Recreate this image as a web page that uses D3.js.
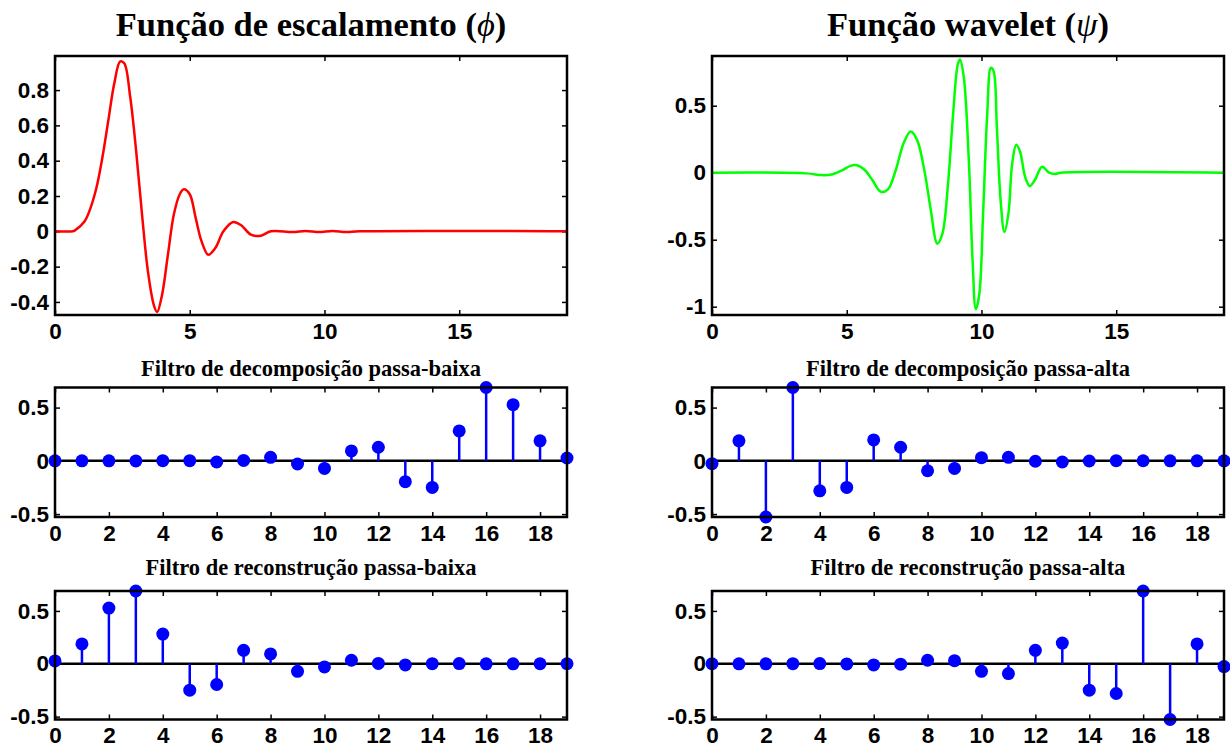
<!DOCTYPE html>
<html>
<head>
<meta charset="utf-8">
<script src="https://cdn.jsdelivr.net/npm/d3@7"></script>
<style>
  body { margin: 0; background: #fff; }
  svg { display: block; }
  .tick text { font-family: "Liberation Sans", Arial, sans-serif; font-weight: bold; font-size: 22.5px; fill: #000; }
  .tick line { stroke: #000; stroke-width: 1.5; }
  .domain { display: none; }
  .ttl { font-family: "Liberation Serif", "Times New Roman", serif; font-weight: bold; fill: #000; }
</style>
</head>
<body>
<svg id="chart" width="1230" height="751"></svg>
<script>
// scaling function phi
var phiX = [0, 0.66, 0.73, 1.10, 1.32, 1.54, 1.76, 1.98, 2.20, 2.42, 2.57, 2.79, 3.01, 3.23, 3.45, 3.67, 3.79, 3.97, 4.19, 4.41, 4.63, 4.78, 5.00, 5.22, 5.44, 5.69, 5.95, 6.25, 6.61, 6.91, 7.27, 7.64, 8.01, 8.82, 9.3, 9.8, 10.3, 10.8, 11.3, 19];
var phiY = [0, 0, 0.004, 0.057, 0.133, 0.248, 0.419, 0.629, 0.838, 0.962, 0.952, 0.762, 0.457, 0.095, -0.229, -0.419, -0.457, -0.362, -0.133, 0.095, 0.210, 0.238, 0.210, 0.076, -0.057, -0.133, -0.095, 0, 0.053, 0.034, -0.019, -0.025, 0, -0.004, 0.002, -0.004, 0.002, -0.004, 0, 0];

// wavelet function psi
var psiX = [0, 3.50, 4.08, 4.44, 4.80, 5.16, 5.38, 5.67, 5.95, 6.27, 6.53, 6.82, 7.11, 7.37, 7.61, 7.90, 8.12, 8.36, 8.55, 8.76, 8.95, 9.12, 9.20, 9.34, 9.53, 9.67, 9.79, 9.92, 10.06, 10.21, 10.35, 10.45, 10.57, 10.71, 10.85, 11.00, 11.14, 11.29, 11.43, 11.62, 11.79, 11.98, 12.25, 12.51, 12.73, 12.94, 19];
var psiY = [0, -0.005, -0.018, -0.013, 0.015, 0.053, 0.055, 0.02, -0.055, -0.143, -0.125, 0.02, 0.22, 0.308, 0.245, -0.005, -0.28, -0.53, -0.455, -0.08, 0.445, 0.808, 0.845, 0.72, 0.095, -0.655, -1.018, -0.905, -0.305, 0.42, 0.783, 0.758, 0.345, -0.205, -0.443, -0.305, 0.07, 0.208, 0.158, -0.03, -0.1, -0.055, 0.045, 0, -0.01, 0, 0];

// filter coefficients, index 0..19
var taps = d3.range(20);
var decLo = [-0.00001, 0.00009, -0.00012, -0.00069, 0.00199, 0.00140, -0.01073, 0.00361, 0.03321, -0.02946, -0.07139, 0.09306, 0.12737, -0.19595, -0.24985, 0.28117, 0.68846, 0.52720, 0.18818, 0.02667];
var decHi = [-0.02667, 0.18818, -0.52720, 0.68846, -0.28117, -0.24985, 0.19595, 0.12737, -0.09306, -0.07139, 0.02946, 0.03321, -0.00361, -0.01073, -0.00140, 0.00199, 0.00069, -0.00012, -0.00009, -0.00001];
var recLo = [0.02667, 0.18818, 0.52720, 0.68846, 0.28117, -0.24985, -0.19595, 0.12737, 0.09306, -0.07139, -0.02946, 0.03321, 0.00361, -0.01073, 0.00140, 0.00199, -0.00069, -0.00012, 0.00009, -0.00001];
var recHi = [-0.00001, -0.00009, -0.00012, 0.00069, 0.00199, -0.00140, -0.01073, -0.00361, 0.03321, 0.02946, -0.07139, -0.09306, 0.12737, 0.19595, -0.24985, -0.28117, 0.68846, -0.52720, 0.18818, -0.02667];

var lineTicksX = [0, 5, 10, 15];
var phiTicksY = [-0.4, -0.2, 0, 0.2, 0.4, 0.6, 0.8];
var psiTicksY = [-1, -0.5, 0, 0.5];
var stemTicksX = [0, 2, 4, 6, 8, 10, 12, 14, 16, 18];
var stemTicksY = [-0.5, 0, 0.5];

var svg = d3.select("#chart");
var fmt = function(d) { return d3.format("")(d).replace("−", "-"); };

function frame(box, xdom, ydom, xticks, yticks) {
  var x = d3.scaleLinear().domain(xdom).range([box.l, box.r]);
  var y = d3.scaleLinear().domain(ydom).range([box.b, box.t]);
  var g = svg.append("g");
  g.append("g").attr("transform", "translate(0," + box.b + ")")
    .call(d3.axisBottom(x).tickValues(xticks).tickSizeInner(-5).tickSizeOuter(0).tickPadding(8).tickFormat(fmt));
  g.append("g").attr("transform", "translate(0," + box.t + ")")
    .call(d3.axisTop(x).tickValues(xticks).tickSizeInner(-5).tickSizeOuter(0).tickFormat(""));
  g.append("g").attr("transform", "translate(" + box.l + ",0)")
    .call(d3.axisLeft(y).tickValues(yticks).tickSizeInner(-5).tickSizeOuter(0).tickPadding(6).tickFormat(fmt));
  g.append("g").attr("transform", "translate(" + box.r + ",0)")
    .call(d3.axisRight(y).tickValues(yticks).tickSizeInner(-5).tickSizeOuter(0).tickFormat(""));
  return {x: x, y: y, g: g};
}

function border(box) {
  svg.append("rect").attr("x", box.l).attr("y", box.t)
    .attr("width", box.r - box.l).attr("height", box.b - box.t)
    .attr("fill", "none").attr("stroke", "#000").attr("stroke-width", 2.5);
}

function curvePanel(box, xs, ys, ydom, yticks, color) {
  var f = frame(box, [0, 19], ydom, lineTicksX, yticks);
  var line = d3.line().x(function(d, i) { return f.x(xs[i]); })
    .y(function(d) { return f.y(d); }).curve(d3.curveCatmullRom.alpha(0.5));
  border(box);
  f.g.append("path").datum(ys).attr("d", line)
    .attr("fill", "none").attr("stroke", color).attr("stroke-width", 2.5);
}

function stemPanel(box, vals) {
  var f = frame(box, [0, 19], [-0.5272, 0.6885], stemTicksX, stemTicksY);
  border(box);
  f.g.append("line").attr("x1", box.l).attr("x2", box.r)
    .attr("y1", f.y(0)).attr("y2", f.y(0)).attr("stroke", "#000").attr("stroke-width", 2.5);
  f.g.selectAll(".stem").data(vals).enter().append("line")
    .attr("x1", function(d, i) { return f.x(taps[i]); })
    .attr("x2", function(d, i) { return f.x(taps[i]); })
    .attr("y1", f.y(0)).attr("y2", function(d) { return f.y(d); })
    .attr("stroke", "#0000ff").attr("stroke-width", 2.5);
  f.g.selectAll(".mk").data(vals).enter().append("circle")
    .attr("cx", function(d, i) { return f.x(taps[i]); })
    .attr("cy", function(d) { return f.y(d); })
    .attr("r", 6.5).attr("fill", "#0000ff");
}

function title(cx, y, size, txt, sym) {
  var t = svg.append("text").attr("class", "ttl").attr("x", cx).attr("y", y)
    .attr("text-anchor", "middle").style("font-size", size + "px").text(txt);
  if (sym) {
    t.append("tspan").style("font-style", "italic").style("font-weight", "normal").text(sym);
    t.append("tspan").text(")");
  }
}

var L = {l: 55, r: 567}, R = {l: 712, r: 1224};

curvePanel({l: L.l, r: L.r, t: 56, b: 315}, phiX, phiY, [-0.474, 0.993], phiTicksY, "#ff0000");
curvePanel({l: R.l, r: R.r, t: 56, b: 315}, psiX, psiY, [-1.062, 0.871], psiTicksY, "#00ff00");
stemPanel({l: L.l, r: L.r, t: 387.5, b: 517}, decLo);
stemPanel({l: R.l, r: R.r, t: 387.5, b: 517}, decHi);
stemPanel({l: L.l, r: L.r, t: 591, b: 719.5}, recLo);
stemPanel({l: R.l, r: R.r, t: 591, b: 719.5}, recHi);

title((L.l + L.r) / 2, 36, 34.5, "Função de escalamento (", "ϕ");
title((R.l + R.r) / 2, 36, 34.5, "Função wavelet (", "ψ");
title((L.l + L.r) / 2, 376, 22.5, "Filtro de decomposição passa-baixa");
title((R.l + R.r) / 2, 376, 22.5, "Filtro de decomposição passa-alta");
title((L.l + L.r) / 2, 575, 22.5, "Filtro de reconstrução passa-baixa");
title((R.l + R.r) / 2, 575, 22.5, "Filtro de reconstrução passa-alta");
</script>
</body>
</html>
